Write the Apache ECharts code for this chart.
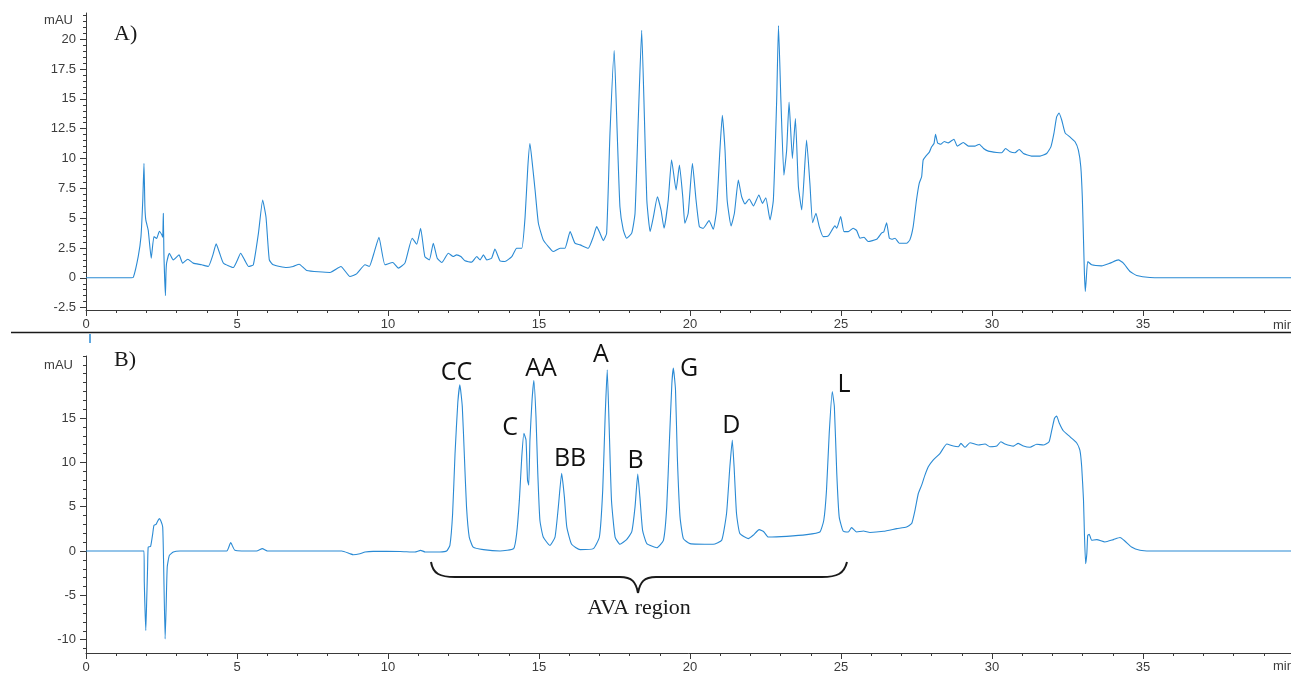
<!DOCTYPE html>
<html>
<head>
<meta charset="utf-8">
<script src="https://cdn.jsdelivr.net/npm/echarts@6/dist/echarts.min.js"></script>
<style>html,body{margin:0;padding:0;background:#fff;}#c{width:1291px;height:673px;}</style>
</head>
<body>
<div id="c"></div>
<script>
// ---- Data ----
// Panel A: retention time (min) and absorbance (mAU)
var timeA = [0,1.5,1.57,1.73,1.82,1.88,1.92,1.95,1.98,2.06,2.16,2.25,2.34,2.43,2.51,2.54,2.56,2.58,2.63,2.65,2.67,2.76,2.89,3.08,3.2,3.37,3.55,3.83,4.05,4.2,4.31,4.42,4.55,4.88,5.0,5.12,5.25,5.38,5.54,5.71,5.85,5.96,6.07,6.2,6.64,6.86,7.06,7.31,8.08,8.44,8.74,8.96,9.24,9.38,9.55,9.7,9.9,10.16,10.34,10.56,10.8,10.95,11.08,11.22,11.37,11.5,11.63,11.78,12.0,12.16,12.27,12.41,12.55,12.77,12.94,13.05,13.16,13.27,13.43,13.54,13.71,13.87,14.1,14.26,14.43,14.54,14.63,14.7,14.79,14.87,14.98,15.14,15.31,15.47,15.7,15.86,16.03,16.19,16.36,16.63,16.8,16.91,17.02,17.13,17.24,17.35,17.49,17.59,17.68,17.79,17.9,18.07,18.18,18.29,18.4,18.49,18.57,18.68,18.79,18.92,19.04,19.14,19.28,19.39,19.54,19.65,19.76,19.83,19.94,20.08,20.2,20.31,20.44,20.63,20.77,20.88,20.99,21.07,21.16,21.23,21.36,21.47,21.6,21.71,21.82,21.96,22.1,22.28,22.4,22.51,22.65,22.76,22.87,22.93,23.01,23.11,23.2,23.28,23.39,23.49,23.59,23.7,23.86,23.97,24.06,24.17,24.28,24.41,24.58,24.8,24.86,24.99,25.1,25.24,25.4,25.52,25.63,25.76,25.9,26.18,26.34,26.42,26.51,26.6,26.68,26.79,26.93,27.17,27.28,27.39,27.5,27.59,27.67,27.72,27.81,27.93,28.0,28.08,28.13,28.2,28.3,28.42,28.55,28.74,28.85,29.05,29.22,29.44,29.58,29.72,29.88,30.16,30.32,30.45,30.6,30.76,30.9,31.04,31.31,31.59,31.81,31.95,32.05,32.14,32.22,32.31,32.42,32.58,32.75,32.86,32.94,32.99,33.03,33.06,33.09,33.12,33.17,33.3,33.63,33.91,34.18,34.35,34.57,34.79,35.23,36.34,40];
var signalA = [0,0,0.05,1.8,3.45,6.5,9.6,6.0,4.85,4.0,1.65,3.45,3.3,3.9,3.6,3.4,5.4,2.0,-1.5,0.5,1.25,2.06,1.5,1.92,1.23,1.56,1.23,1.09,0.95,1.9,2.84,2.1,1.23,0.86,1.4,2.06,1.5,0.95,1.09,3.74,6.52,5.1,1.5,1.09,0.86,0.95,1.14,0.61,0.45,0.95,0.11,0.33,1.09,0.95,2.2,3.4,1.09,1.28,0.81,1.23,3.32,2.82,4.15,1.78,1.5,2.9,1.64,1.28,2.06,1.78,1.92,1.78,1.42,1.31,1.78,1.5,1.92,1.5,1.64,2.4,1.42,1.37,1.78,2.48,2.48,5.13,9.31,11.26,9.31,7.36,4.57,3.18,2.62,2.2,2.48,2.48,3.87,2.9,2.76,2.48,3.45,4.29,3.74,3.12,3.74,12.1,19.06,12.1,5.96,4.01,3.32,3.74,5.41,13.49,20.74,13.49,6.52,3.87,5.13,6.8,5.69,4.15,6.52,9.9,7.36,9.45,6.8,4.57,5.41,9.59,6.52,4.29,4.15,4.79,4.07,5.69,10.7,13.63,10.7,6.52,4.35,5.41,8.19,6.8,6.19,6.6,6.02,6.94,6.24,6.71,4.85,6.52,14.88,21.15,14.88,8.61,10.7,14.74,10.0,13.35,7.63,5.69,11.54,7.92,4.62,5.41,4.29,3.45,3.51,4.35,4.15,5.13,3.87,3.87,4.15,3.96,3.32,3.4,3.04,3.23,3.74,3.87,4.62,3.32,3.23,3.32,2.9,2.9,3.18,4.29,6.52,7.92,8.47,9.87,10.2,10.56,10.98,11.26,12.04,11.31,11.2,11.43,11.31,11.62,11.04,11.34,11.04,11.04,11.2,10.84,10.62,10.51,10.48,10.84,10.56,10.48,10.76,10.42,10.2,10.2,10.42,10.98,12.1,13.49,13.82,13.21,12.15,11.81,11.4,10.7,9.31,6.8,3.18,0.39,-1.14,-0.17,1.37,1.09,1.0,1.23,1.5,1.23,0.53,0.2,0.03,0,0];

// Panel B
var timeB = [0,1.92,1.93,1.98,2.01,2.04,2.06,2.14,2.21,2.25,2.32,2.36,2.43,2.48,2.54,2.57,2.62,2.65,2.69,2.76,2.89,3.11,4.66,4.79,4.93,5.65,5.84,6.0,8.47,8.74,8.85,9.07,9.24,9.51,10.4,10.89,11.08,11.23,11.72,11.94,12.05,12.14,12.22,12.31,12.38,12.46,12.53,12.6,12.69,12.82,13.16,13.71,14.16,14.26,14.35,14.43,14.5,14.57,14.62,14.66,14.7,14.77,14.83,14.9,14.96,15.03,15.14,15.36,15.53,15.64,15.75,15.84,15.92,16.08,16.36,16.8,17.0,17.11,17.19,17.26,17.32,17.4,17.52,17.68,17.9,18.07,18.18,18.27,18.34,18.43,18.57,18.9,19.12,19.23,19.32,19.4,19.45,19.52,19.58,19.67,19.78,20.0,20.77,21.05,21.21,21.32,21.4,21.46,21.54,21.65,21.93,22.09,22.29,22.45,22.59,23.2,23.86,24.3,24.43,24.52,24.61,24.71,24.78,24.86,24.94,25.07,25.24,25.35,25.52,25.74,25.96,26.41,26.85,27.17,27.34,27.45,27.56,27.67,27.78,27.89,28.05,28.28,28.5,28.72,28.89,28.97,29.11,29.27,29.55,29.77,29.93,30.16,30.29,30.43,30.71,30.87,31.04,31.26,31.48,31.7,31.89,31.98,32.07,32.14,32.23,32.36,32.58,32.8,32.91,32.97,33.03,33.06,33.1,33.14,33.17,33.22,33.3,33.47,33.74,34.02,34.24,34.4,34.62,34.9,35.23,40];
var signalB = [0,0,-3.5,-8.97,-5.58,-1.8,0.45,0.53,1.97,2.9,3.0,3.28,3.66,3.39,2.72,-1.43,-9.91,-6.7,-1.8,-0.49,-0.11,0,0,0.95,0.1,0,0.27,0.02,0,-0.3,-0.41,-0.3,-0.11,-0.04,-0.05,-0.11,0.08,-0.1,-0.1,0,0.64,4.23,11.0,16.67,18.74,16.29,10.63,4.98,1.58,0.45,0.16,0,0.27,1.97,5.74,10.63,13.28,12.52,8.0,7.43,12.52,17.05,19.23,15.16,8.76,3.47,1.58,0.64,1.58,4.98,8.76,6.11,2.72,0.76,0.16,0.27,1.58,6.87,15.16,20.44,14.41,5.74,1.58,0.76,1.29,2.15,4.98,8.68,6.11,2.34,0.84,0.38,1.21,4.98,12.52,18.93,20.63,18.18,10.63,3.85,1.4,0.84,0.76,1.21,4.23,9.5,12.52,9.5,4.23,1.97,1.4,1.78,2.42,2.15,1.58,1.66,1.85,2.15,3.47,6.87,13.28,17.99,16.29,8.76,3.85,2.26,2.15,2.64,2.15,2.26,2.1,2.23,2.53,2.72,3.1,4.6,6.49,7.43,8.56,9.5,10.26,11.02,12.07,11.84,11.77,12.15,11.7,12.22,11.96,12.07,11.77,11.84,12.33,12.07,11.84,12.15,11.84,11.7,12.04,11.96,12.33,13.65,14.98,15.24,14.41,13.57,12.9,12.22,11.39,9.5,5.74,1.97,-1.43,-0.3,1.78,1.89,1.21,1.29,1.02,1.29,1.52,1.13,0.45,0.08,0,0];

// Peak labels of panel B: name and [time, mAU] anchor of its text
var peakNames = ['CC','C','AA','A','BB','B','G','D','L'];
var peakLabelPos = [[12.27,20.1],[14.04,13.9],[15.07,20.6],[17.05,21.0],[16.03,10.4],[18.2,10.15],[19.97,20.6],[21.37,14.1],[25.1,18.7]];

// Axis tick labels
var xTicks = [0,5,10,15,20,25,30,35];
var yTicksA = [-2.5,0,2.5,5,7.5,10,12.5,15,17.5,20];
var yTicksB = [-10,-5,0,5,10,15];

// ---- Chart ----
var chart = echarts.init(document.getElementById('c'), null, {renderer:'canvas'});
var LINE = '#2a8ad4';
var AX = '#3a3a3a';
var LBL = '#3c3c3c';
var FONT = 'Liberation Sans, Arial, sans-serif';

function zip(t, v){ var o=[]; for (var i=0;i<t.length;i++) o.push([t[i], v[i]]); return o; }
function minorList(a, b, step){ var o=[]; for (var v=a; v<=b+1e-9; v+=step) o.push(Math.round(v*100)/100); return o; }

function xAxisDef(gi){
  return {
    type:'value', gridIndex:gi, min:0, max:40, interval:5,
    axisLine:{show:true, onZero:false, lineStyle:{color:AX, width:1}},
    axisTick:{show:true, length:6, lineStyle:{color:AX}},
    minorTick:{show:true, splitNumber:5, length:3, lineStyle:{color:AX}},
    splitLine:{show:false},
    axisLabel:{color:LBL, fontSize:13, fontFamily:FONT, margin:8,
      formatter:function(v){ return xTicks.indexOf(v) >= 0 ? String(v) : ''; }}
  };
}
function yMajor(gi, min, max, ticks){
  return {
    type:'value', gridIndex:gi, min:min, max:max, position:'left',
    axisLine:{show:true, onZero:false, lineStyle:{color:AX, width:1}},
    axisTick:{show:true, length:6, customValues:ticks, lineStyle:{color:AX}},
    axisLabel:{show:true, customValues:ticks, color:LBL, fontSize:13, fontFamily:FONT, margin:10},
    splitLine:{show:false}
  };
}
function yMinor(gi, min, max, ticks){
  return {
    type:'value', gridIndex:gi, min:min, max:max, position:'left', offset:0,
    axisLine:{show:false, onZero:false},
    axisTick:{show:true, length:3, customValues:ticks, lineStyle:{color:AX}},
    axisLabel:{show:false},
    splitLine:{show:false}
  };
}

function txt(x, y, s, font, align, color){
  return {type:'text', x:x, y:y, silent:true, style:{text:s, fill:color, font:font, align:align, textAlign:align, verticalAlign:'middle', textVerticalAlign:'middle'}};
}
function bez(a, b, c, d){
  return {type:'bezierCurve', silent:true, shape:{x1:a[0], y1:a[1], cpx1:b[0], cpy1:b[1], cpx2:c[0], cpy2:c[1], x2:d[0], y2:d[1]}, style:{stroke:'#1a1a1a', fill:null, lineWidth:2}};
}
function seg(a, b, w, col){
  return {type:'line', silent:true, shape:{x1:a[0], y1:a[1], x2:b[0], y2:b[1]}, style:{stroke:col, lineWidth:w}};
}

var graphics = [
  txt(73, 20, 'mAU', '13px '+FONT, 'right', LBL),
  txt(73, 365, 'mAU', '13px '+FONT, 'right', LBL),
  txt(1273, 325, 'min', '13px '+FONT, 'left', LBL),
  txt(1273, 666, 'min', '13px '+FONT, 'left', LBL),
  txt(114, 34, 'A)', '22px Liberation Serif, serif', 'left', '#1a1a1a'),
  txt(114, 360, 'B)', '22px Liberation Serif, serif', 'left', '#1a1a1a'),
  seg([11,332.5], [1291,332.5], 1.5, '#1a1a1a'),
  seg([90,334], [90,343], 1.5, LINE),
  bez([431,562], [433,574], [440,577], [455,577]),
  seg([455,577], [620,577], 2, '#1a1a1a'),
  bez([620,577], [632,577], [636,582], [638,593]),
  bez([638,593], [640,582], [644,577], [656,577]),
  seg([656,577], [822,577], 2, '#1a1a1a'),
  bez([822,577], [837,577], [844,574], [847,562]),
  txt(639, 608, 'AVA region', '22px Liberation Serif, serif', 'center', '#1a1a1a')
];

var option = {
  animation:false,
  backgroundColor:'#ffffff',
  grid:[
    {left:86, width:1208, top:13, height:297, containLabel:false, outerBoundsMode:'none'},
    {left:86, width:1208, top:356, height:297, containLabel:false, outerBoundsMode:'none'}
  ],
  xAxis:[xAxisDef(0), xAxisDef(1)],
  yAxis:[
    yMajor(0, -2.7, 22.2, yTicksA),
    yMinor(0, -2.7, 22.2, minorList(-2.5, 22, 0.5)),
    yMajor(1, -11.5, 22, yTicksB),
    yMinor(1, -11.5, 22, minorList(-11, 22, 1))
  ],
  series:[
    {type:'line', xAxisIndex:0, yAxisIndex:0, data:zip(timeA, signalA), showSymbol:false, smooth:0.15,
      lineStyle:{color:LINE, width:1.1}, silent:true},
    {type:'line', xAxisIndex:1, yAxisIndex:2, data:zip(timeB, signalB), showSymbol:false, smooth:0.15,
      lineStyle:{color:LINE, width:1.1}, silent:true,
      markPoint:{
        symbol:'circle', symbolSize:0, silent:true,
        label:{show:true, color:'#111', fontSize:25, fontFamily:'Open Sans, Liberation Sans, sans-serif', formatter:'{b}', position:'inside'},
        data: peakNames.map(function(n,i){
          var d = {name:n, coord:peakLabelPos[i]};
          if (n === 'A') d.label = {offset:[0,-10]};
          return d;
        })
      }}
  ],
  graphic:graphics
};
chart.setOption(option);
</script>
</body>
</html>
